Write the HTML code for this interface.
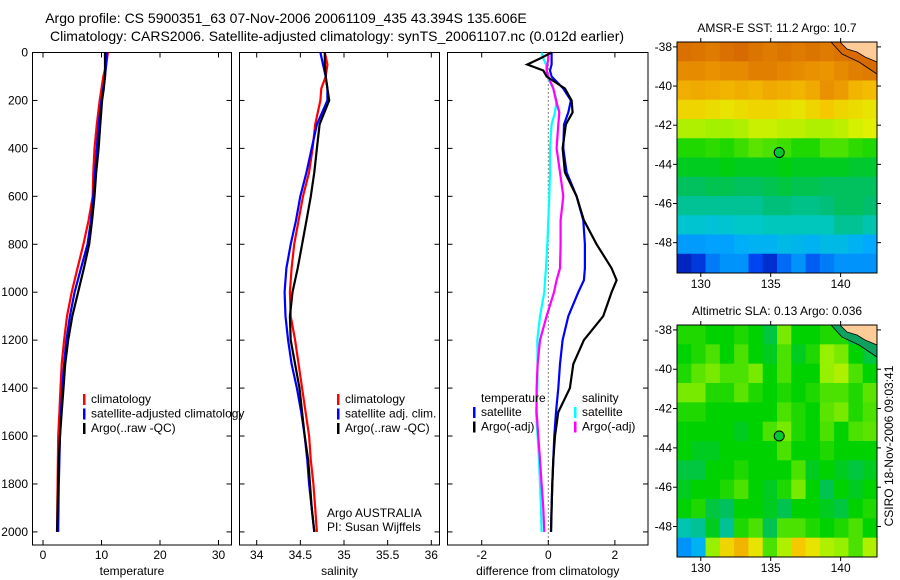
<!DOCTYPE html>
<html><head><meta charset="utf-8">
<style>
body{margin:0;background:#fff;width:900px;height:580px;overflow:hidden}
svg{display:block;font-family:"Liberation Sans",sans-serif}
</style></head>
<body>
<svg id="fig" width="900" height="580" viewBox="0 0 900 580">
<text x="286" y="23" font-size="14" text-anchor="middle">Argo profile: CS 5900351_63 07-Nov-2006 20061109_435 43.394S 135.606E</text>
<text x="337" y="41" font-size="14" text-anchor="middle">Climatology: CARS2006. Satellite-adjusted climatology: synTS_20061107.nc (0.012d earlier)</text>
</svg>
<script>
// ---- profile data ----
const depthsTS = [0,50,100,150,200,300,400,500,600,700,800,900,1000,1100,1200,1300,1400,1500,1600,1700,1800,1900,2000];
const tempClim = [11.1,10.8,10.3,10.0,9.7,9.2,8.8,8.6,8.5,7.8,6.9,5.9,4.9,4.1,3.6,3.2,3.0,2.8,2.6,2.55,2.5,2.45,2.45];
const tempSat  = [10.9,10.8,10.6,10.3,10.0,9.5,9.2,8.9,8.6,8.2,7.6,6.5,5.4,4.6,4.0,3.6,3.3,3.1,2.9,2.8,2.7,2.65,2.6];
const tempArgo = [10.6,10.6,10.6,10.4,10.1,9.8,9.5,9.1,8.8,8.4,7.9,7.0,6.0,5.0,4.3,3.8,3.5,3.2,2.9,2.7,2.6,2.5,2.4];
const salClim  = [34.78,34.81,34.79,34.74,34.73,34.67,34.64,34.60,34.53,34.48,34.43,34.40,34.38,34.39,34.44,34.48,34.52,34.56,34.60,34.62,34.65,34.67,34.69];
const salSat   = [34.73,34.76,34.79,34.81,34.81,34.69,34.63,34.57,34.50,34.45,34.39,34.34,34.32,34.33,34.36,34.40,34.46,34.51,34.55,34.58,34.60,34.63,34.66];
const salArgo  = [34.78,34.78,34.79,34.81,34.83,34.72,34.69,34.66,34.62,34.57,34.52,34.47,34.41,34.38,34.39,34.44,34.49,34.52,34.55,34.59,34.61,34.63,34.66];
const depthsD  = [0,25,50,75,100,150,200,250,300,400,500,600,700,800,900,950,1000,1100,1200,1300,1400,1500,1600,1700,1800,1900,2000];
const dTempArgo= [0.1,-0.25,-0.63,-0.15,-0.05,0.5,0.7,0.73,0.53,0.43,0.5,0.85,1.07,1.45,1.9,2.05,1.9,1.65,1.07,0.75,0.65,0.3,0.2,0.15,0.12,0.1,0.08];
const dTempSat = [0.1,0.1,0.1,0.05,0.1,0.45,0.68,0.6,0.47,0.45,0.55,0.85,1.05,1.1,1.1,1.07,0.9,0.6,0.43,0.35,0.3,0.23,0.18,0.15,0.12,0.1,0.08];
const dSalSat  = [-0.2,-0.15,-0.07,-0.05,-0.03,0.15,0.25,0.2,0.1,0.05,0.05,0.03,0,-0.03,-0.07,-0.1,-0.12,-0.25,-0.33,-0.32,-0.33,-0.37,-0.32,-0.28,-0.25,-0.22,-0.2];
const dSalArgo = [0,0,-0.03,-0.05,0,0.15,0.23,0.33,0.3,0.25,0.35,0.45,0.37,0.37,0.35,0.25,0.17,-0.05,-0.25,-0.32,-0.35,-0.35,-0.3,-0.25,-0.2,-0.15,-0.12];
const depthTicks = [0,200,400,600,800,1000,1200,1400,1600,1800,2000];
const tempTicks = [0,10,20,30];
const salTicks = [34,34.5,35,35.5,36];
const salTickLabels = ["34","34.5","35","35.5","36"];
const diffTicks = [-2,0,2];
// ---- map data (values on colormap 0..1) ----
const sstGrid = [
[.87,.86,.85,.87,.88,.86,.85,.86,.85,.86,.85,.86,.86,.86],
[.82,.82,.81,.82,.82,.84,.84,.83,.82,.81,.80,.82,.84,.85],
[.76,.77,.76,.75,.76,.75,.77,.76,.75,.77,.81,.79,.75,.74],
[.70,.70,.69,.68,.69,.70,.70,.69,.68,.70,.72,.70,.69,.68],
[.62,.62,.61,.61,.62,.64,.64,.63,.63,.62,.62,.63,.65,.66],
[.52,.52,.53,.52,.54,.56,.55,.54,.52,.52,.55,.55,.53,.52],
[.48,.48,.48,.49,.48,.48,.48,.49,.48,.48,.48,.48,.47,.47],
[.44,.44,.45,.45,.44,.44,.45,.46,.45,.45,.44,.44,.44,.44],
[.40,.40,.40,.40,.40,.40,.42,.42,.41,.41,.42,.44,.44,.43],
[.35,.35,.34,.35,.36,.36,.37,.37,.37,.37,.37,.40,.40,.38],
[.26,.26,.27,.27,.29,.30,.30,.32,.31,.30,.32,.32,.30,.28],
[.08,.12,.22,.25,.25,.15,.10,.20,.25,.18,.22,.25,.25,.25]];
const slaGrid = [
[.52,.52,.50,.50,.52,.50,.46,.58,.50,.50,.52,.52,.45,.45],
[.50,.52,.55,.50,.55,.50,.48,.55,.48,.52,.60,.58,.50,.46],
[.52,.56,.58,.55,.55,.58,.50,.55,.50,.50,.60,.62,.55,.50],
[.58,.58,.52,.52,.56,.52,.50,.52,.50,.52,.55,.55,.52,.56],
[.52,.52,.50,.50,.50,.50,.50,.55,.52,.50,.56,.58,.52,.55],
[.50,.50,.50,.50,.48,.50,.55,.58,.52,.50,.55,.50,.55,.56],
[.50,.48,.48,.50,.50,.50,.50,.55,.50,.50,.52,.50,.50,.50],
[.46,.46,.50,.50,.52,.50,.50,.50,.55,.48,.50,.48,.46,.48],
[.48,.50,.50,.52,.55,.50,.48,.52,.58,.50,.45,.50,.48,.50],
[.50,.52,.46,.44,.50,.50,.48,.45,.50,.50,.48,.46,.50,.52],
[.38,.40,.48,.40,.52,.55,.45,.55,.55,.52,.50,.52,.55,.50],
[.25,.30,.60,.70,.75,.68,.55,.62,.72,.68,.62,.60,.55,.62]];
const latTicks = [-38,-40,-42,-44,-46,-48];
const lonTicks = [130,135,140];
const floatLon = 135.606, floatLat = -43.394;

const NS="http://www.w3.org/2000/svg";
const svg=document.getElementById('fig');
function mk(tag,attrs,parent,text){const e=document.createElementNS(NS,tag);for(const k in attrs)e.setAttribute(k,attrs[k]);if(text!==undefined)e.textContent=text;(parent||svg).appendChild(e);return e;}

const yTop=52.5, yBot=545;
const yD = d => 52.5 + d*0.2397;
const panels=[
 {x0:32.5,x1:231.5,fx:v=>43+v*5.85,ticks:tempTicks,labels:tempTicks.map(String),title:"temperature",name:"temperature-panel"},
 {x0:239.5,x1:439.5,fx:v=>256.7+(v-34)*87.3,ticks:salTicks,labels:salTickLabels,title:"salinity",name:"salinity-panel"},
 {x0:447.5,x1:648,fx:v=>548.3+v*33.3,ticks:diffTicks,labels:diffTicks.map(v=>v<0?"-"+Math.abs(v):String(v)),title:"difference from climatology",name:"difference-panel"}];

panels.forEach((p,i)=>{
 const g=mk('g',{});
 
 
 const r=mk('rect',{x:p.x0,y:yTop,width:p.x1-p.x0,height:yBot-yTop,fill:'none',stroke:'#000','stroke-width':1},g);
 
 
 p.ticks.forEach((t,j)=>{
  const x=p.fx(t);
  mk('line',{x1:x,y1:yTop,x2:x,y2:yTop+5,stroke:'#000'},g);
  mk('line',{x1:x,y1:yBot,x2:x,y2:yBot-5,stroke:'#000'},g);
  const tl=mk('text',{x:x,y:559,'font-size':12,'text-anchor':'middle'},g,p.labels[j]);
  
  
 });
 depthTicks.forEach(d=>{
  const y=yD(d);
  mk('line',{x1:p.x0,y1:y,x2:p.x0+5,y2:y,stroke:'#000'},g);
  mk('line',{x1:p.x1,y1:y,x2:p.x1-5,y2:y,stroke:'#000'},g);
  if(i===0){const tl=mk('text',{x:28,y:y+4,'font-size':12,'text-anchor':'end'},g,String(d));
   
   }
 });
 const at=mk('text',{x:(p.x0+p.x1)/2,y:575,'font-size':12,'text-anchor':'middle'},g,p.title);
 
 
});
const zl=mk('line',{x1:panels[2].fx(0),y1:yTop,x2:panels[2].fx(0),y2:yBot,stroke:'#000','stroke-dasharray':'1,3'});



function series(p,vals,depths,color,name){
 const pts=vals.map((v,k)=>p.fx(v).toFixed(1)+','+yD(depths[k]).toFixed(1)).join(' ');
 const l=mk('polyline',{points:pts,fill:'none',stroke:color,'stroke-width':2.2});
 
 
}
series(panels[0],tempClim,depthsTS,'#ff0000','temp-climatology-line');
series(panels[0],tempSat,depthsTS,'#0000ff','temp-satellite-line');
series(panels[0],tempArgo,depthsTS,'#000000','temp-argo-line');
series(panels[1],salClim,depthsTS,'#ff0000','sal-climatology-line');
series(panels[1],salSat,depthsTS,'#0000ff','sal-satellite-line');
series(panels[1],salArgo,depthsTS,'#000000','sal-argo-line');
series(panels[2],dSalSat,depthsD,'#00ffff','diff-sal-satellite-line');
series(panels[2],dSalArgo,depthsD,'#ff00ff','diff-sal-argo-line');
series(panels[2],dTempSat,depthsD,'#0000ff','diff-temp-satellite-line');
series(panels[2],dTempArgo,depthsD,'#000000','diff-temp-argo-line');

function legend(x,y,items,nm){
 const g=mk('g',{});
 
 
 items.forEach((it,k)=>{
  const yy=y+k*14.5;
  if(it[1]) mk('rect',{x:x,y:yy-9,width:2.5,height:11,fill:it[1]},g);
  const t=mk('text',{x:x+(it[1]?8:0),y:yy,'font-size':12},g,it[0]);
  
  
 });
}
legend(83,403,[["climatology","#ff0000"],["satellite-adjusted climatology","#0000ff"],["Argo(..raw -QC)","#000"]],'temperature-legend');
legend(337,403,[["climatology","#ff0000"],["satellite adj. clim.","#0000ff"],["Argo(..raw -QC)","#000"]],'salinity-legend');
legend(481,402,[["temperature",null]],'diff-legend-temp-header');
legend(473,416,[["satellite","#0000ff"],["Argo(-adj)","#000"]],'diff-legend-temp');
legend(582,402,[["salinity",null]],'diff-legend-sal-header');
legend(574,416,[["satellite","#00ffff"],["Argo(-adj)","#ff00ff"]],'diff-legend-sal');
const a1=mk('text',{x:327,y:517,'font-size':12},svg,"Argo AUSTRALIA");

const a2=mk('text',{x:327,y:531,'font-size':12},svg,"PI: Susan Wijffels");


// ---- maps ----
const cmapStops=[[0,[0,0,140]],[0.15,[0,70,240]],[0.28,[0,170,255]],[0.36,[0,200,200]],[0.43,[0,190,110]],[0.5,[0,210,0]],[0.6,[150,240,0]],[0.66,[225,240,0]],[0.72,[245,200,0]],[0.8,[235,150,0]],[0.9,[210,95,0]],[1,[170,40,0]]];
function cmap(v){for(let i=1;i<cmapStops.length;i++){if(v<=cmapStops[i][0]){const a=cmapStops[i-1],b=cmapStops[i];const t=(v-a[0])/(b[0]-a[0]);const c=a[1].map((q,k)=>Math.round(q+(b[1][k]-q)*t));return `rgb(${c})`;}}return 'rgb(170,40,0)';}
const lon0=128.3,lon1=142.6,lat0=-37.75,lat1=-49.55;
function drawMap(x0,y0,x1,y1,grid,title,name,strip){
 const g=mk('g',{});
 
 
 const fx=lon=>x0+(lon-lon0)/(lon1-lon0)*(x1-x0);
 const fy=lat=>y0+(lat-lat0)/(lat1-lat0)*(y1-y0);
 const rows=grid.length,cols=grid[0].length,cw=(x1-x0)/cols,ch=(y1-y0)/rows;
 grid.forEach((row,r)=>row.forEach((v,c)=>{
  const cell=mk('rect',{x:(x0+c*cw).toFixed(2),y:(y0+r*ch).toFixed(2),width:(cw+0.5).toFixed(2),height:(ch+0.5).toFixed(2),fill:cmap(v)},g);
  
  
 }));
 mk('polygon',{points:`${x0+154},${y0} ${x1},${y0} ${x1},${y0+32} ${x1-18},${y0+20} ${x1-35},${y0+12}`,fill:strip},g);
 const land=mk('polygon',{points:`${x0+163},${y0} ${x1},${y0} ${x1},${y0+20} ${x1-12},${y0+15} ${x1-20},${y0+10} ${x1-30},${y0+7}`,fill:'#ffcc99',stroke:'#000','stroke-width':0.8},g);
 
 
 mk('polyline',{points:`${x0+154},${y0} ${x1-35},${y0+12} ${x1-18},${y0+20} ${x1},${y0+32}`,fill:'none',stroke:'#000','stroke-width':0.8},g);
 mk('rect',{x:x0,y:y0,width:x1-x0,height:y1-y0,fill:'none',stroke:'#000'},g);
 latTicks.forEach(l=>{const y=fy(l);
  mk('line',{x1:x0-4,y1:y,x2:x0,y2:y,stroke:'#000'},g);
  mk('line',{x1:x1,y1:y,x2:x1+4,y2:y,stroke:'#000'},g);
  const t=mk('text',{x:x0-5,y:y+4,'font-size':12,'text-anchor':'end'},g,String(l));
  });
 lonTicks.forEach(l=>{const x=fx(l);
  mk('line',{x1:x,y1:y0-4,x2:x,y2:y0,stroke:'#000'},g);
  mk('line',{x1:x,y1:y1,x2:x,y2:y1+4,stroke:'#000'},g);
  const t=mk('text',{x:x,y:y1+15,'font-size':12,'text-anchor':'middle'},g,String(l));
  });
 const tt=mk('text',{x:(x0+x1)/2,y:y0-10,'font-size':12,'text-anchor':'middle'},g,title);
 
 const fl=mk('circle',{cx:fx(floatLon),cy:fy(floatLat),r:5,fill:'#00c830',stroke:'#000'},g);
 
 
}
drawMap(677,42,877,273,sstGrid,"AMSR-E SST: 11.2 Argo: 10.7","sst-map","#d86a00");
drawMap(677,325,877,557,slaGrid,"Altimetric SLA: 0.13 Argo: 0.036","sla-map","#10a060");
const cs=mk('text',{x:0,y:0,'font-size':12,'text-anchor':'middle',transform:'translate(893,446) rotate(-90)'},svg,"CSIRO 18-Nov-2006 09:03:41");


</script>
</body></html>
